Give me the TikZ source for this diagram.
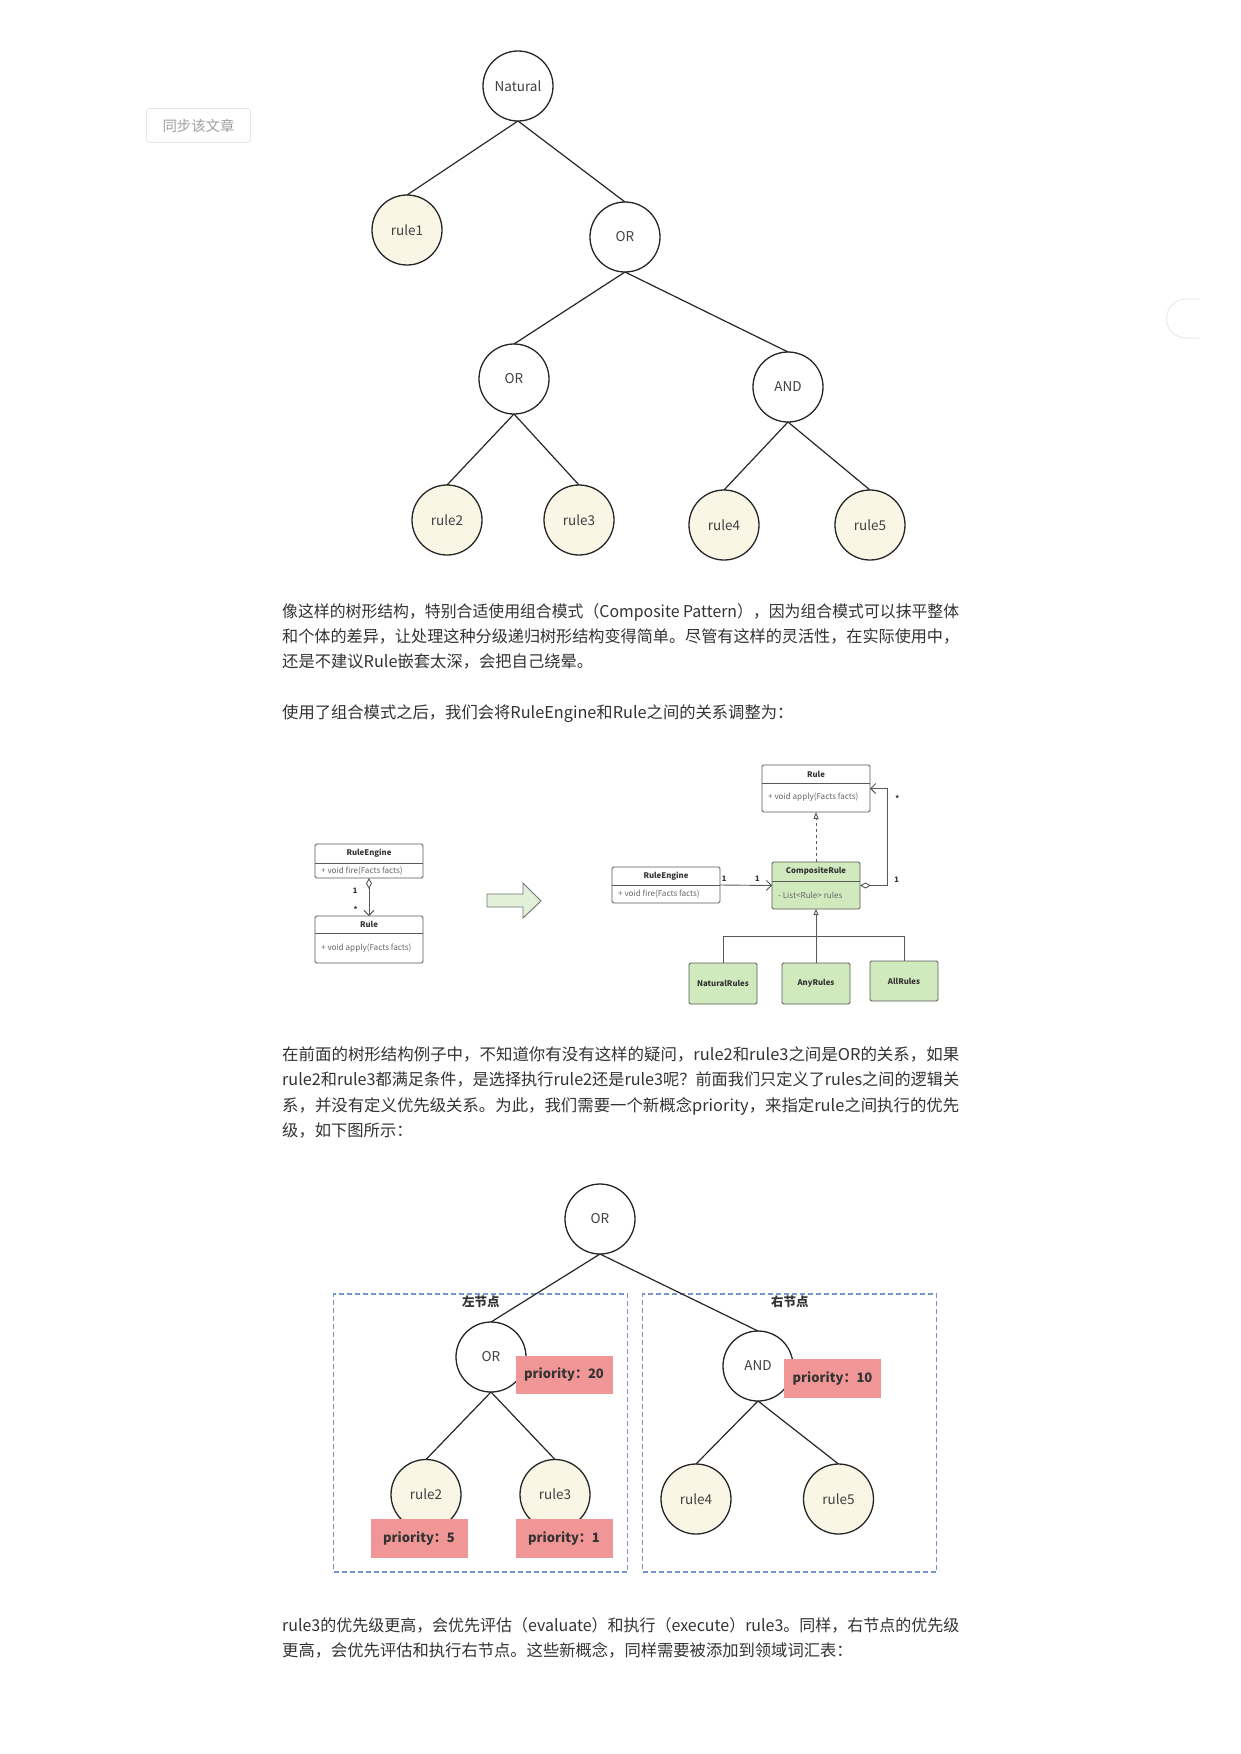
\documentclass[tikz,border=0pt]{standalone}
\usepackage{graphicx}
\usepackage{fontspec}
\setmainfont{Noto Sans CJK SC}
\usetikzlibrary{arrows.meta,positioning,calc}
\definecolor{InkGray}{RGB}{51,51,51}
\definecolor{LeafCream}{RGB}{249,246,229}
\definecolor{ClassGreen}{RGB}{208,234,190}
\definecolor{ArrowGreen}{RGB}{226,240,217}
\definecolor{TagRed}{RGB}{240,150,150}
\definecolor{GroupBlue}{RGB}{122,150,200}
\definecolor{ButtonGray}{RGB}{160,160,160}
% a justified line of the column
\newcommand{\fullline}[1]{\resizebox{677pt}{\height}{#1}}
% class box: style, name, x, top y, width, head height, body height, title, member
\newcommand{\umlclass}[9]{%
  \node[#1, minimum width=#5, minimum height=#6+#7, anchor=north] (#2) at (#3,#4) {};
  \node[umltitle] at ([yshift=-#6/2]#2.north) {#8};
  \draw[umlline] ([yshift=-#6]#2.north west) -- ([yshift=-#6]#2.north east);
  \node[umlmember] at ([xshift=6, yshift=-#6-#7/2]#2.north west) {#9};
}

\begin{document}
\begin{tikzpicture}[x=1pt,y=-1pt,>=Latex,
    tnode/.style={circle, draw=black!85, line width=1.3pt, fill=white, minimum size=70pt,
      inner sep=0pt, outer sep=0pt, text=black!75, font=\fontsize{13.5}{15}\selectfont},
    leaf/.style={tnode, fill=LeafCream},
    tline/.style={draw=black!85, line width=1.2pt},
    para/.style={anchor=west, inner sep=0pt, text=InkGray, text height=0.88em, text depth=0.12em,
      font=\fontsize{16.3}{20}\selectfont},
    umlbox/.style={draw=black!65, line width=0.9pt, fill=white, rounded corners=1.5pt, outer sep=0pt, inner sep=0pt},
    umlgreen/.style={umlbox, fill=ClassGreen},
    umltitle/.style={inner sep=0pt, text=InkGray, font=\bfseries\fontsize{7.8}{9}\selectfont},
    umlmember/.style={anchor=west, inner sep=0pt, text=black!60, font=\fontsize{8.1}{9}\selectfont},
    umlline/.style={draw=black!65, line width=0.9pt},
    umlmult/.style={inner sep=1pt, text=InkGray, font=\bfseries\fontsize{7.5}{8}\selectfont},
    tag/.style={fill=TagRed, minimum width=97, minimum height=39, inner sep=0pt, text=InkGray,
      font=\bfseries\fontsize{13}{14}\selectfont},
    group/.style={draw=GroupBlue, line width=1.2pt, dash pattern=on 5pt off 3pt, minimum width=294,
      minimum height=278, inner sep=0pt},
    grouptitle/.style={inner sep=0pt, text=InkGray, font=\bfseries\fontsize{12.5}{14}\selectfont}]
  \fill[white] (0,0) rectangle (1241,1754);
  \useasboundingbox (0,0) rectangle (1241,1754);

  % page decorations
  \node[draw=black!10, line width=0.8pt, rounded corners=3pt, minimum width=104, minimum height=34,
    text=ButtonGray, font=\fontsize{14.4}{16}\selectfont] (syncbtn) at (198.5,125.5) {同步该文章};
  \draw[black!8, line width=1pt] (1200,299) -- (1186,299) arc[start angle=90, end angle=270, radius=19.5pt] -- (1200,338);

  % first tree
  \node[tnode] (natural) at (518,86) {Natural};
  \node[leaf] (rule1a) at (407,230) {rule1};
  \node[tnode] (or1) at (625,237) {OR};
  \node[tnode] (or2) at (514,379) {OR};
  \node[tnode] (and1) at (788,387) {AND};
  \node[leaf] (rule2a) at (447,520) {rule2};
  \node[leaf] (rule3a) at (579,520) {rule3};
  \node[leaf] (rule4a) at (724,525) {rule4};
  \node[leaf] (rule5a) at (870,525) {rule5};
  \draw[tline] (natural.south) -- (rule1a.north);
  \draw[tline] (natural.south) -- (or1.north);
  \draw[tline] (or1.south) -- (or2.north);
  \draw[tline] (or1.south) -- (and1.north);
  \draw[tline] (or2.south) -- (rule2a.north);
  \draw[tline] (or2.south) -- (rule3a.north);
  \draw[tline] (and1.south) -- (rule4a.north);
  \draw[tline] (and1.south) -- (rule5a.north);

  % text
  \node[para] (p1a) at (282,613.5) {\fullline{像这样的树形结构，特别合适使用组合模式（Composite Pattern），因为组合模式可以抹平整体}};
  \node[para] (p1b) at (282,639) {\fullline{和个体的差异，让处理这种分级递归树形结构变得简单。尽管有这样的灵活性，在实际使用中，}};
  \node[para] (p1c) at (282,664) {还是不建议Rule嵌套太深，会把自己绕晕。};
  \node[para] (p2a) at (282,714.5) {使用了组合模式之后，我们会将RuleEngine和Rule之间的关系调整为：};

  % class diagram, before
  \umlclass{umlbox}{engineL}{369}{844}{108}{19}{15}{RuleEngine}{+ void fire(Facts facts)}
  \umlclass{umlbox}{ruleL}{369}{916}{108}{17}{30}{Rule}{+ void apply(Facts facts)}
  \draw[umlline, {Diamond[open,length=11pt,width=6pt]}-{Straight Barb[length=5pt,width=10pt]}]
    (engineL.south) -- (ruleL.north)
    node[umlmult, pos=0.34, left=10pt] (multL1) {1}
    node[umlmult, pos=0.82, left=10pt] (multL2) {*};

  \draw[draw=black!55, line width=0.9pt, fill=ArrowGreen]
    (487,894) -- (523,894) -- (523,883) -- (541,901) -- (523,918) -- (523,907) -- (487,907) -- cycle;

  % class diagram, after
  \umlclass{umlbox}{ruleR}{816}{765}{108}{18}{29}{Rule}{+ void apply(Facts facts)}
  \umlclass{umlbox}{engineR}{666}{867}{108}{18}{18}{RuleEngine}{+ void fire(Facts facts)}
  \umlclass{umlgreen}{composite}{816}{862}{88}{19}{28}{CompositeRule}{- List<Rule> rules}
  \node[umlgreen, minimum width=68, minimum height=41, text=InkGray, font=\bfseries\fontsize{7.8}{9}\selectfont] (naturalrules) at (723,983.5) {NaturalRules};
  \node[umlgreen, minimum width=68, minimum height=41, text=InkGray, font=\bfseries\fontsize{7.8}{9}\selectfont] (anyrules) at (816,983.5) {AnyRules};
  \node[umlgreen, minimum width=68, minimum height=40, text=InkGray, font=\bfseries\fontsize{7.8}{9}\selectfont] (allrules) at (904,981) {AllRules};

  \draw[umlline, -{Straight Barb[length=5pt,width=10pt]}] (engineR.east) -- (composite.west)
    node[umlmult, pos=0.08, above=2pt] (multR1) {1}
    node[umlmult, pos=0.72, above=2pt] (multR2) {1};
  \draw[umlline, dashed, -{Triangle[open,length=7pt,width=5pt]}] (composite.north) -- (ruleR.south);
  \draw[umlline, {Diamond[open,length=11pt,width=6pt]}-{Straight Barb[length=5pt,width=10pt]}]
    (composite.east) -- ++(27,0) node[umlmult, above right=2pt and 6pt] (multR3) {1}
    |- (ruleR.east) node[umlmult, pos=0.45, right=7pt] (multR4) {*};
  \draw[umlline, -{Triangle[open,length=6pt,width=5pt]}] (anyrules.north) -- (composite.south);
  \draw[umlline] (naturalrules.north) |- ([yshift=-27pt]composite.south) -| (allrules.north);

  % text
  \node[para] (p3a) at (282,1056.5) {\fullline{在前面的树形结构例子中，不知道你有没有这样的疑问，rule2和rule3之间是OR的关系，如果}};
  \node[para] (p3b) at (282,1082) {\fullline{rule2和rule3都满足条件，是选择执行rule2还是rule3呢？前面我们只定义了rules之间的逻辑关}};
  \node[para] (p3c) at (282,1107.5) {\fullline{系，并没有定义优先级关系。为此，我们需要一个新概念priority，来指定rule之间执行的优先}};
  \node[para] (p3d) at (282,1133) {级，如下图所示：};

  % second tree
  \node[group] (leftgrp) at (480.75,1433) {};
  \node[group] (rightgrp) at (789.75,1433) {};
  \node[grouptitle] (leftttl) at ([yshift=-8.5pt]leftgrp.north) {左节点};
  \node[grouptitle] (rightttl) at ([yshift=-8.5pt]rightgrp.north) {右节点};

  \node[tnode] (ortop) at (600,1219) {OR};
  \node[tnode] (orl) at (491,1357) {OR};
  \node[tnode] (andr) at (758,1366) {AND};
  \node[leaf] (rule2b) at (426,1494.5) {rule2};
  \node[leaf] (rule3b) at (555,1494.5) {rule3};
  \node[leaf] (rule4b) at (696,1499) {rule4};
  \node[leaf] (rule5b) at (838.5,1499) {rule5};
  \draw[tline] (ortop.south) -- (orl.north);
  \draw[tline] (ortop.south) -- (andr.north);
  \draw[tline] (orl.south) -- (rule2b.north);
  \draw[tline] (orl.south) -- (rule3b.north);
  \draw[tline] (andr.south) -- (rule4b.north);
  \draw[tline] (andr.south) -- (rule5b.north);

  \node[tag, minimum height=38] (tag20) at (564,1375) {priority：20};
  \node[tag] (tag10) at (832.5,1378.5) {priority：10};
  \node[tag] (tag5) at (419,1538.5) {priority：5};
  \node[tag] (tag1) at (564,1538.5) {priority：1};

  % text
  \node[para] (p4a) at (282,1627.5) {\fullline{rule3的优先级更高，会优先评估（evaluate）和执行（execute）rule3。同样，右节点的优先级}};
  \node[para] (p4b) at (282,1652.5) {更高，会优先评估和执行右节点。这些新概念，同样需要被添加到领域词汇表：};
\end{tikzpicture}
\end{document}
